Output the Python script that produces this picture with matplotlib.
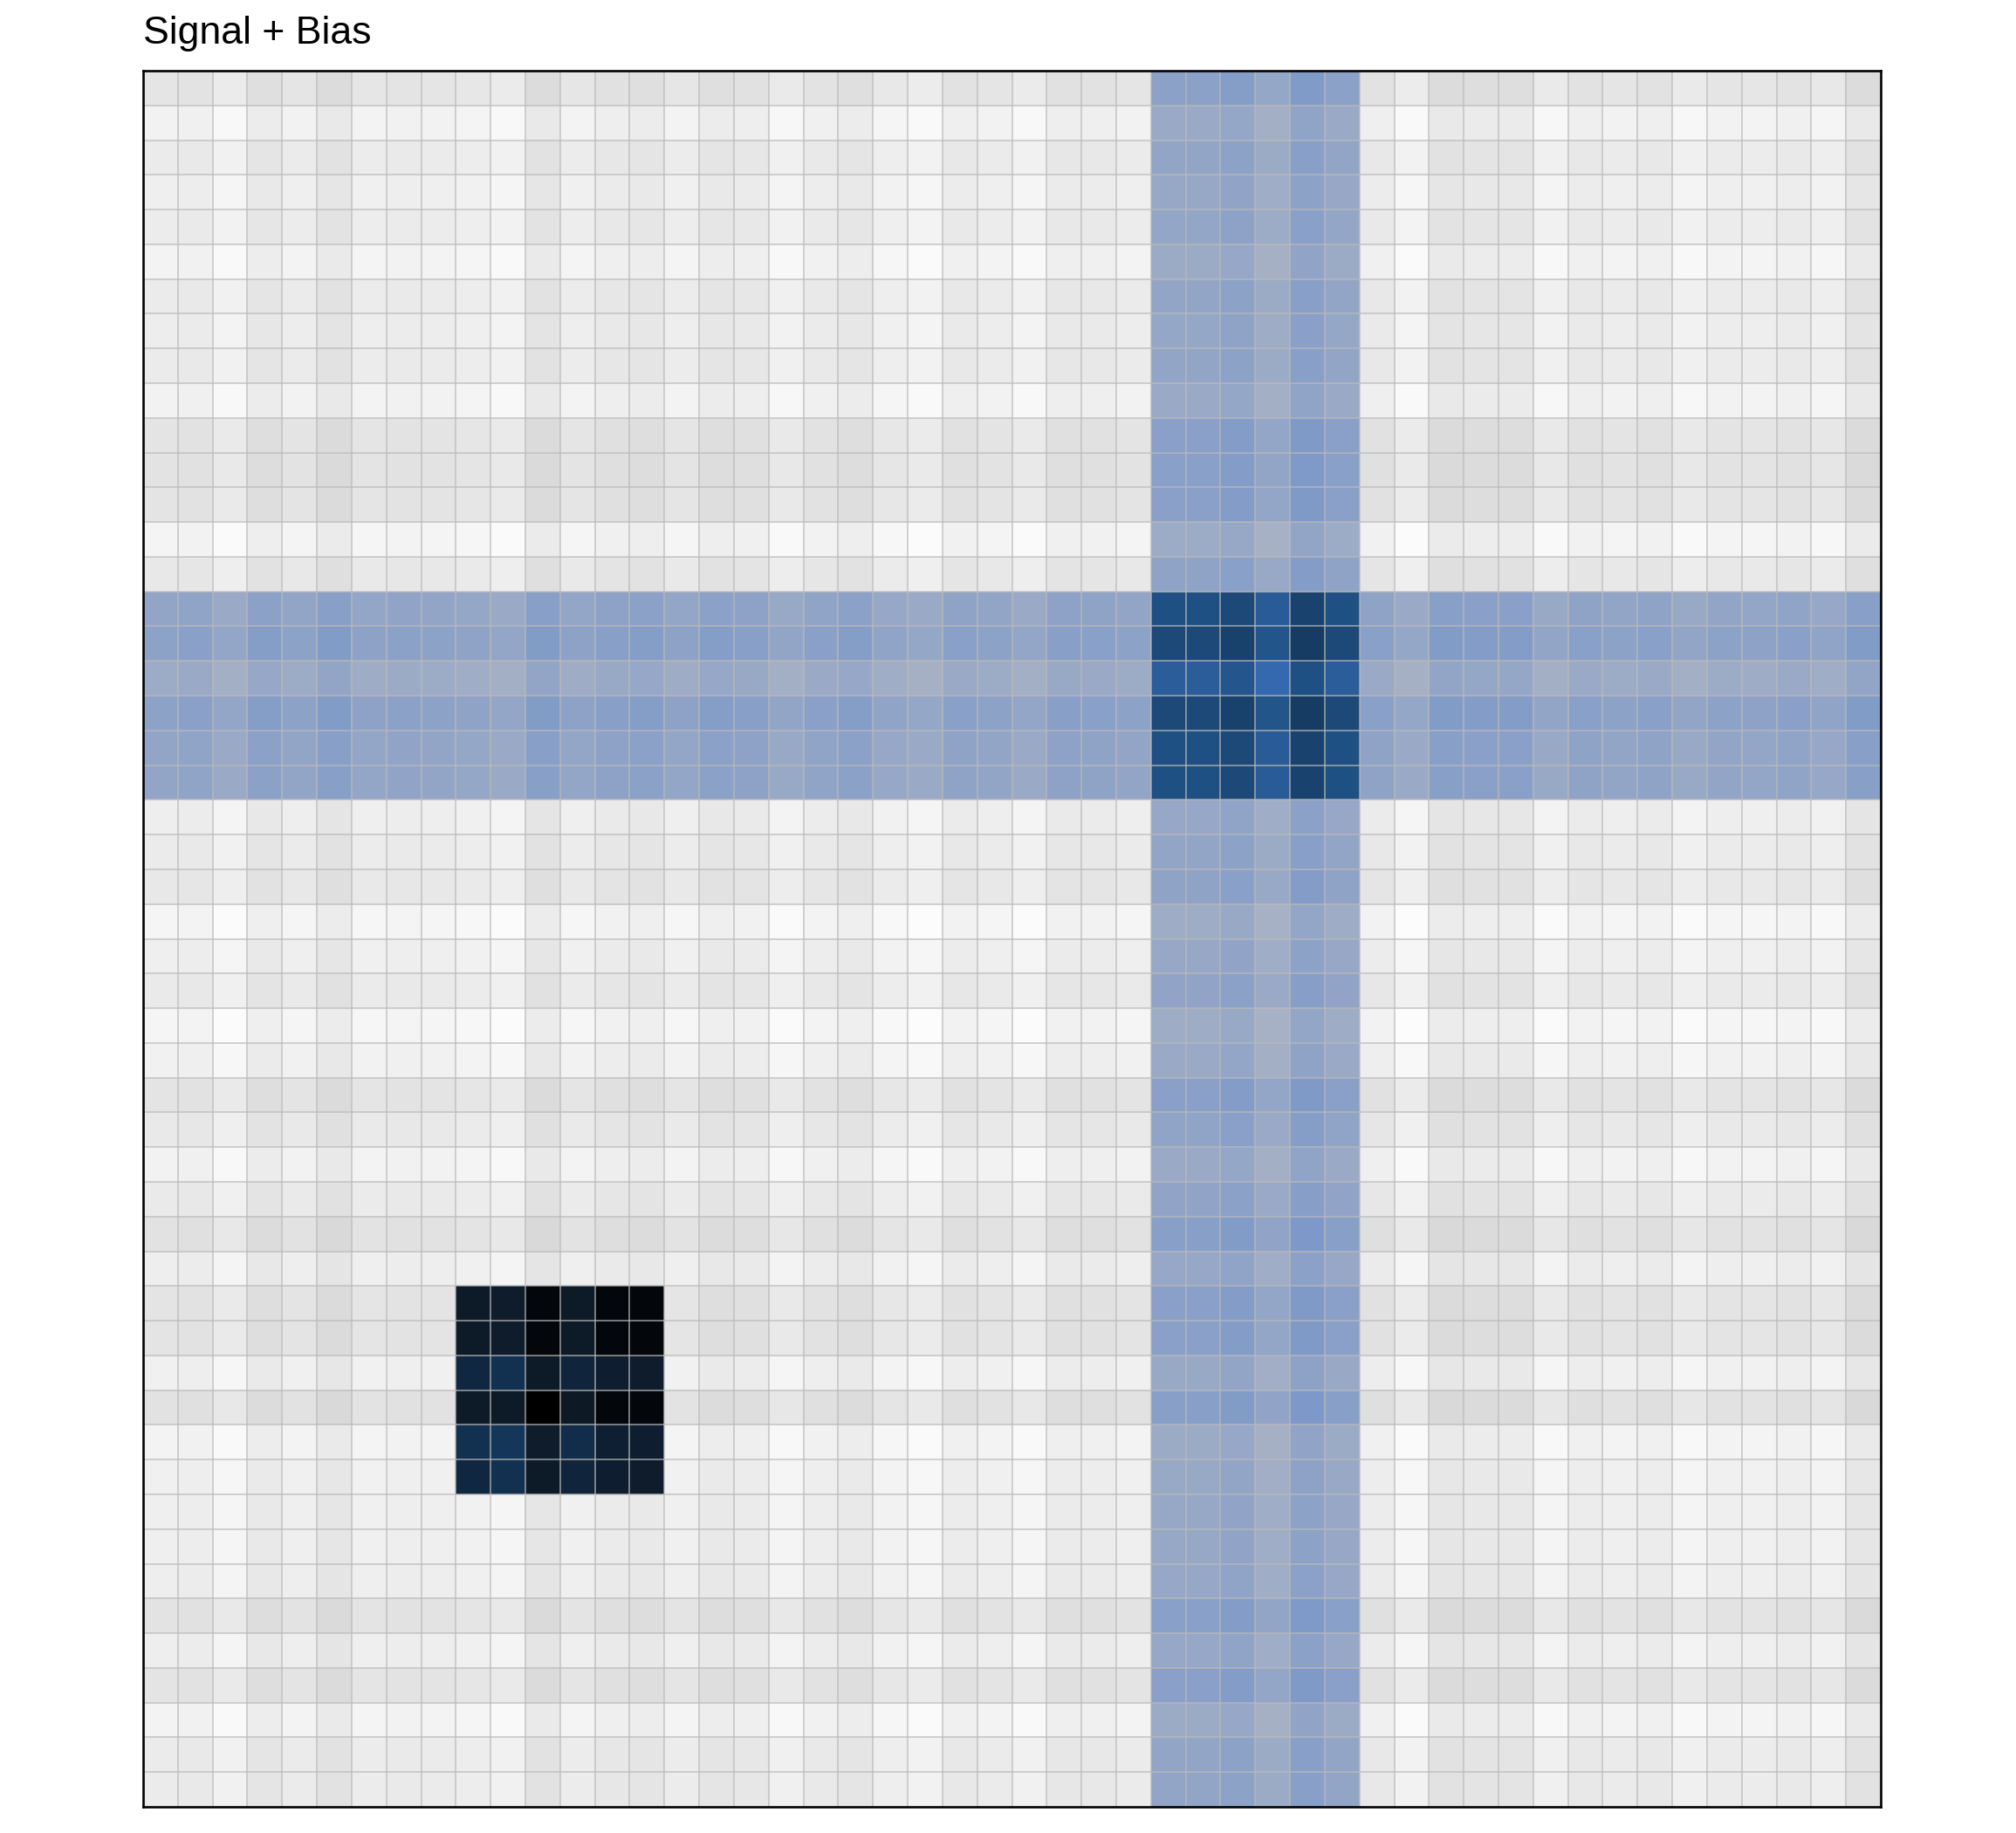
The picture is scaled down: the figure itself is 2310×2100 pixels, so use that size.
import numpy as np
import matplotlib
matplotlib.use("Agg")
import matplotlib.pyplot as plt
from matplotlib.colors import LinearSegmentedColormap

# ---- data (darkness units) ----
row_bias = [16, 3, 10, 6, 9, 2, 10, 8, 10, 3,
            17, 18, 17, 1, 13, 12, 17, 3, 17, 12,
            12, 7, 10, 13, 0, 6, 11, 0, 4, 17,
            12, 3, 11, 19, 7, 17, 17, 5, 19, 2,
            5, 6, 6, 7, 18, 7, 17, 2, 10, 10]
col_bias = [7, 9, 1, 13, 7, 16, 6, 8, 7, 5,
            1, 16, 6, 11, 13, 6, 13, 11, 2, 9,
            13, 4, 0, 10, 7, 1, 11, 10, 7, 9,
            9, 14, 1, 18, 9, 10, 0, 16, 14, 14,
            2, 10, 7, 10, 2, 7, 6, 9, 4, 16]
row_signal_rows = [15, 16, 17, 18, 19, 20]
col_signal_cols = [29, 30, 31, 32, 33, 34]
block_rows = [35, 36, 37, 38, 39, 40]
block_cols = [9, 10, 11, 12, 13, 14]
row_signal = 60
col_signal = 60
block_signal = 180

n_rows, n_cols = len(row_bias), len(col_bias)
M = np.add.outer(np.array(row_bias, float), np.array(col_bias, float))
M[row_signal_rows, :] += row_signal
M[:, col_signal_cols] += col_signal
M[np.ix_(block_rows, block_cols)] += block_signal

vmax = 225.0
anchors = [
    (0, "#fcfcfc"), (40, "#d4d4d4"), (45, "#cfcfcf"),
    (60, "#a8b2c5"), (100, "#7a97c9"), (105, "#7694c9"),
    (120, "#396db9"), (140, "#205285"), (160, "#123458"), (165, "#113256"),
    (180, "#143a60"), (187, "#12304f"), (193, "#0f1f33"), (200, "#0d1b29"),
    (205, "#0d1a26"), (207.5, "#03070b"), (213, "#03060a"), (215, "#000000"),
    (225, "#000000"),
]
cmap = LinearSegmentedColormap.from_list(
    "sigbias", [(v / vmax, c) for v, c in anchors], N=2048)

W, H = 2310, 2100
dpi = 210
fig = plt.figure(figsize=(W / dpi, H / dpi), dpi=dpi)
left, right, top, bottom = 164, 2155, 81, 2070
ax = fig.add_axes([left / W, 1 - bottom / H, (right - left) / W, (bottom - top) / H])

ax.pcolormesh(np.arange(n_cols + 1), np.arange(n_rows + 1), M,
              cmap=cmap, vmin=0, vmax=vmax, shading="flat", edgecolors="none")
gc = (0.73, 0.73, 0.73, 0.72)
ax.vlines(np.arange(1, n_cols), 0, n_rows, colors=[gc], linewidth=0.6)
ax.hlines(np.arange(1, n_rows), 0, n_cols, colors=[gc], linewidth=0.6)
ax.set_xlim(0, n_cols)
ax.set_ylim(n_rows, 0)
ax.set_xticks([])
ax.set_yticks([])
for s in ax.spines.values():
    s.set_linewidth(0.9)
    s.set_color("black")

fig.text(left / W, 1 - 50 / H, "Signal + Bias", fontsize=15.3,
         family=["Liberation Sans", "DejaVu Sans"], ha="left", va="baseline")

fig.savefig("out.png", dpi=dpi, facecolor="white")
